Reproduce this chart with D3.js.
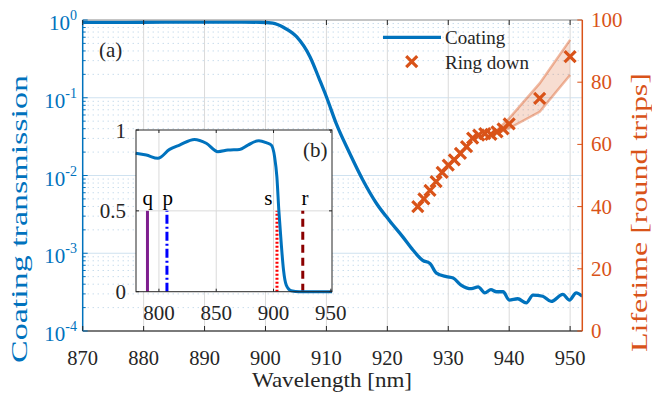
<!DOCTYPE html>
<html lang="en">
<head>
  <meta charset="UTF-8">
  <title>Coating transmission</title>
  <style>
    body { margin: 0; background: #fff; }
  </style>
</head>
<body>
<div id="chart"></div>
<script src="https://cdn.jsdelivr.net/npm/d3@7"></script>
<script>
// main curve: coating transmission (log axis)
let wavelength = [870, 880, 890, 895, 899, 901.2, 903, 905.1, 907.3, 908.9, 910, 911.6, 913.8, 916, 918.2, 920.4, 922.6, 924.2, 925.8, 927, 928, 929.7, 930.8, 932.1, 933.8, 934.9, 936, 937, 937.9, 939, 940, 941.4, 942.8, 943.9, 945.5, 946.9, 948.8, 949.9, 951, 952]
let transmission = [0.93, 0.935, 0.94, 0.94, 0.935, 0.91, 0.8, 0.61, 0.337, 0.169, 0.103, 0.0468, 0.0195, 0.0087, 0.0044, 0.0026, 0.0016, 0.0011, 8.1e-4, 7.4e-4, 5.6e-4, 5.0e-4, 4.8e-4, 3.9e-4, 3.5e-4, 3.7e-4, 3.1e-4, 3.4e-4, 3.2e-4, 3.2e-4, 2.5e-4, 2.6e-4, 2.3e-4, 2.9e-4, 2.8e-4, 2.4e-4, 2.95e-4, 2.5e-4, 3.1e-4, 2.8e-4]

// ring down lifetime (right axis)
let ringWl = [925, 926, 927, 928, 929, 930, 931, 932, 933, 934, 935, 936, 937, 938, 939, 940, 945, 950]
let ringLife = [40, 42.5, 45.2, 48, 51, 53.3, 55, 57.1, 59.3, 62, 63, 63.5, 63.2, 64, 65, 66.6, 74.8, 88.2]
let bandWl = [938, 940, 945, 950]
let bandLow = [63.5, 65.2, 70.5, 82.3]
let bandHigh = [64.6, 68.4, 79.6, 93.6]

// inset (b): linear transmission
let insetWl = [779.7, 789, 799.1, 809.3, 818, 831, 841.3, 851.4, 860.2, 870.4, 877.6, 887.2, 893.6, 898, 900.9, 902.9, 904.6, 906.7, 908.7, 911.1, 915.4, 922.7, 951]
let insetT = [0.856, 0.845, 0.825, 0.88, 0.907, 0.942, 0.918, 0.866, 0.876, 0.88, 0.907, 0.934, 0.922, 0.907, 0.835, 0.711, 0.505, 0.299, 0.134, 0.041, 0.006, 0, 0]
let markNames = ['q', 'p', 's', 'r']
let markWl = [790, 807, 903, 925.5]
let markColor = ['#7E1E8E', '#0000FF', '#FF0000', '#8B0000']
let markDash = ['none', '9,3,2,3', '2,2', '8,5']

let xTicks = [870, 880, 890, 900, 910, 920, 930, 940, 950]
let yTicksExp = [0, -1, -2, -3, -4]
let rTicks = [0, 20, 40, 60, 80, 100]
let inXTicks = [800, 850, 900, 950]
let inYTicks = [0, 0.5, 1]

let blue = '#0072BD'
let orange = '#D95319'
let ink = '#262626'
let serif = '"Liberation Serif", Tinos, "Times New Roman", Times, "Nimbus Roman", FreeSerif, serif'

let svg = d3.select('#chart').append('svg').attr('width', 652).attr('height', 394)
  .attr('font-family', serif).style('font-family', serif)

let L = 82.7, R = 582.3, T = 20, B = 331
let x = d3.scaleLinear().domain([870, 952]).range([L, R])
let y = d3.scaleLog().domain([1e-4, 1]).range([B, T])
let yR = d3.scaleLinear().domain([0, 100]).range([B, T])

// grid
let grid = svg.append('g')
let minor = []
yTicksExp.slice(0, 4).forEach(e => { for (let k = 2; k < 10; k++) minor.push(k * Math.pow(10, e - 1)) })
grid.selectAll('.mn').data(minor).enter().append('line')
  .attr('x1', L).attr('x2', R).attr('y1', d => y(d)).attr('y2', d => y(d))
  .attr('stroke', '#b0cde4').attr('stroke-dasharray', '1,4').attr('stroke-width', 1)
grid.selectAll('.mj').data(yTicksExp.slice(1, 4)).enter().append('line')
  .attr('x1', L).attr('x2', R).attr('y1', d => y(Math.pow(10, d))).attr('y2', d => y(Math.pow(10, d)))
  .attr('stroke', '#cfe2f0').attr('stroke-width', 1)
grid.selectAll('.vx').data(xTicks.slice(1)).enter().append('line')
  .attr('x1', d => x(d)).attr('x2', d => x(d)).attr('y1', T).attr('y2', B)
  .attr('stroke', '#dadada').attr('stroke-width', 1)

// clip for the main axes
svg.append('clipPath').attr('id', 'clipMain').append('rect')
  .attr('x', L).attr('y', T - 2).attr('width', R - L).attr('height', B - T + 2)

let plot = svg.append('g').attr('clip-path', 'url(#clipMain)')
plot.append('path')
  .datum(d3.range(wavelength.length))
  .attr('d', d3.line().curve(d3.curveMonotoneX).x(i => x(wavelength[i])).y(i => y(transmission[i])))
  .attr('fill', 'none').attr('stroke', blue).attr('stroke-width', 3.3).attr('stroke-linejoin', 'round')

// band around ring down
let bandIdx = d3.range(bandWl.length)
plot.append('path').datum(bandIdx)
  .attr('d', d3.area().x(i => x(bandWl[i])).y0(i => yR(bandLow[i])).y1(i => yR(bandHigh[i])))
  .attr('fill', orange).attr('fill-opacity', 0.2)
;[bandLow, bandHigh].forEach(arr => {
  plot.append('path').datum(bandIdx)
    .attr('d', d3.line().x(i => x(bandWl[i])).y(i => yR(arr[i])))
    .attr('fill', 'none').attr('stroke', orange).attr('stroke-opacity', 0.4).attr('stroke-width', 2.5)
})

let cross = 'M-5.5,-5.5L5.5,5.5M-5.5,5.5L5.5,-5.5'
plot.selectAll('.rd').data(ringWl).enter().append('path')
  .attr('d', cross).attr('transform', (d, i) => 'translate(' + x(d) + ',' + yR(ringLife[i]) + ')')
  .attr('stroke', orange).attr('stroke-width', 3.2).attr('fill', 'none')

// axes box
svg.append('line').attr('x1', L).attr('x2', R).attr('y1', T).attr('y2', T).attr('stroke', '#8a8a8a').attr('stroke-width', 1)
svg.append('line').attr('x1', L).attr('x2', R).attr('y1', B).attr('y2', B).attr('stroke', '#7a7a7a').attr('stroke-width', 2)
svg.append('line').attr('x1', L).attr('x2', L).attr('y1', T).attr('y2', B).attr('stroke', blue).attr('stroke-width', 1.5)
svg.append('line').attr('x1', R).attr('x2', R).attr('y1', T).attr('y2', B).attr('stroke', orange).attr('stroke-width', 1.5)

// x ticks + labels
xTicks.forEach(t => {
  svg.append('line').attr('x1', x(t)).attr('x2', x(t)).attr('y1', B).attr('y2', B - 5).attr('stroke', ink)
  svg.append('line').attr('x1', x(t)).attr('x2', x(t)).attr('y1', T).attr('y2', T + 5).attr('stroke', ink)
  svg.append('text').text(t).attr('x', x(t)).attr('y', 365).attr('text-anchor', 'middle')
    .attr('font-size', 20.5).attr('fill', ink)
})

// left log ticks
yTicksExp.forEach(e => {
  let yy = y(Math.pow(10, e))
  svg.append('line').attr('x1', L).attr('x2', L + 5).attr('y1', yy).attr('y2', yy).attr('stroke', blue)
  let t = svg.append('text').attr('x', 77).attr('y', yy + 10).attr('text-anchor', 'end').attr('fill', blue)
  t.append('tspan').text('10').attr('font-size', 21)
  t.append('tspan').text(e).attr('font-size', 14).attr('dy', -10)
})
minor.forEach(v => {
  svg.append('line').attr('x1', L).attr('x2', L + 3).attr('y1', y(v)).attr('y2', y(v)).attr('stroke', blue)
})

// right ticks
rTicks.forEach(t => {
  svg.append('line').attr('x1', R).attr('x2', R - 5).attr('y1', yR(t)).attr('y2', yR(t)).attr('stroke', orange)
  svg.append('text').text(t).attr('x', 591).attr('y', yR(t) + 7).attr('font-size', 21).attr('fill', orange)
})

// axis titles
svg.append('text').text('Wavelength [nm]').attr('x', 332).attr('y', 387).attr('text-anchor', 'middle')
  .attr('font-size', 22).attr('fill', ink).attr('textLength', 160).attr('lengthAdjust', 'spacingAndGlyphs')
svg.append('text').text('Coating transmission').attr('transform', 'translate(27,219) rotate(-90)')
  .attr('text-anchor', 'middle').attr('font-size', 22.7).attr('fill', blue)
  .attr('textLength', 288).attr('lengthAdjust', 'spacingAndGlyphs')
svg.append('text').text('Lifetime [round trips]').attr('transform', 'translate(647,212.5) rotate(-90)')
  .attr('text-anchor', 'middle').attr('font-size', 22.7).attr('fill', orange)
  .attr('textLength', 279).attr('lengthAdjust', 'spacingAndGlyphs')

svg.append('text').text('(a)').attr('x', 99).attr('y', 57).attr('font-size', 21).attr('fill', ink)

// legend
svg.append('line').attr('x1', 383).attr('x2', 441).attr('y1', 37.3).attr('y2', 37.3).attr('stroke', blue).attr('stroke-width', 3.3)
svg.append('text').text('Coating').attr('x', 445).attr('y', 43.5).attr('font-size', 19).attr('fill', ink)
svg.append('path').attr('d', cross).attr('transform', 'translate(411.7,61.7)').attr('stroke', orange).attr('stroke-width', 3.2)
svg.append('text').text('Ring down').attr('x', 445).attr('y', 68.5).attr('font-size', 19).attr('fill', ink)

// ---- inset (b) ----
let xi = d3.scaleLinear().domain([780, 951]).range([136, 332])
let yi = d3.scaleLinear().domain([0, 1]).range([291.7, 130])
let inset = svg.append('g')
inset.append('rect').attr('x', 136).attr('y', 130).attr('width', 196).attr('height', 161.7).attr('fill', '#fff')
inXTicks.slice(0, 3).forEach(t => {
  inset.append('line').attr('x1', xi(t)).attr('x2', xi(t)).attr('y1', yi(0)).attr('y2', yi(1)).attr('stroke', '#dadada')
})
inset.append('line').attr('x1', 136).attr('x2', 332).attr('y1', yi(0.5)).attr('y2', yi(0.5)).attr('stroke', '#dadada')

markWl.forEach((w, i) => {
  inset.append('line').attr('x1', xi(w)).attr('x2', xi(w)).attr('y1', yi(0)).attr('y2', yi(0.5))
    .attr('stroke', markColor[i]).attr('stroke-width', 3).attr('stroke-dasharray', markDash[i])
})
let labelX = [147.7, 167.7, 268.3, 305]
markNames.forEach((n, i) => {
  inset.append('text').text(n).attr('x', labelX[i]).attr('y', 205).attr('text-anchor', 'middle')
    .attr('font-size', 21).attr('fill', '#000')
})

inset.append('path').datum(d3.range(insetWl.length))
  .attr('d', d3.line().curve(d3.curveMonotoneX).x(i => xi(insetWl[i])).y(i => yi(insetT[i])))
  .attr('fill', 'none').attr('stroke', blue).attr('stroke-width', 3).attr('stroke-linejoin', 'round')

inset.append('rect').attr('x', 136).attr('y', 130).attr('width', 196).attr('height', 161.7)
  .attr('fill', 'none').attr('stroke', ink).attr('stroke-width', 1)
inXTicks.forEach(t => {
  inset.append('line').attr('x1', xi(t)).attr('x2', xi(t)).attr('y1', yi(0)).attr('y2', yi(0) - 3).attr('stroke', ink)
  inset.append('line').attr('x1', xi(t)).attr('x2', xi(t)).attr('y1', yi(1)).attr('y2', yi(1) + 3).attr('stroke', ink)
  inset.append('text').text(t).attr('x', xi(t)).attr('y', 320).attr('text-anchor', 'middle').attr('font-size', 21).attr('fill', ink)
})
inYTicks.forEach(t => {
  inset.append('line').attr('x1', 136).attr('x2', 139).attr('y1', yi(t)).attr('y2', yi(t)).attr('stroke', ink)
  inset.append('line').attr('x1', 332).attr('x2', 329).attr('y1', yi(t)).attr('y2', yi(t)).attr('stroke', ink)
  inset.append('text').text(t).attr('x', 126).attr('y', yi(t) + 7.5).attr('text-anchor', 'end').attr('font-size', 21).attr('fill', ink)
})
inset.append('text').text('(b)').attr('x', 303).attr('y', 157).attr('font-size', 21).attr('fill', ink)
</script>
</body>
</html>
